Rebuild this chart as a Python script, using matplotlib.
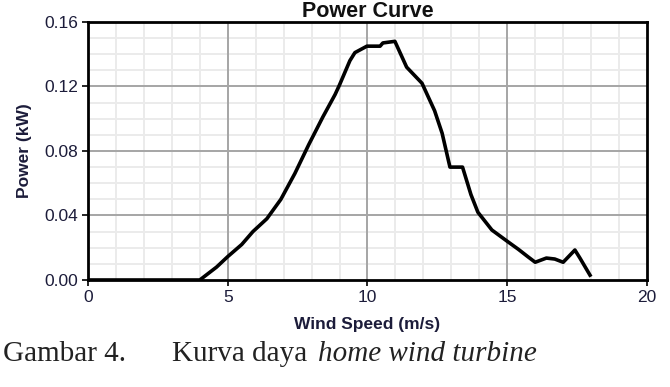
import matplotlib.pyplot as plt
from matplotlib.ticker import FormatStrFormatter

plt.rcParams['font.family'] = ['Liberation Sans', 'DejaVu Sans']

wind_speed = [0, 4.0, 4.3, 4.6, 5.0, 5.5, 5.9, 6.4, 6.9, 7.4, 7.9, 8.4, 8.84, 9.0,
              9.37, 9.55, 9.98, 10.45, 10.55, 10.98, 11.4, 11.95, 12.4, 12.67, 12.95,
              13.4, 13.7, 13.95, 14.45, 15.0, 15.4, 15.74, 16.0, 16.4, 16.7, 17.0,
              17.42, 17.6, 17.96]
power_kw = [0, 0, 0.004, 0.008, 0.0145, 0.022, 0.030, 0.038, 0.050, 0.066, 0.084,
            0.101, 0.115, 0.121, 0.136, 0.141, 0.145, 0.145, 0.147, 0.148, 0.132,
            0.122, 0.105, 0.091, 0.070, 0.070, 0.053, 0.042, 0.031, 0.024, 0.019,
            0.0144, 0.011, 0.0136, 0.013, 0.011, 0.0186, 0.0136, 0.003]

x_ticks = [0, 5, 10, 15, 20]
y_ticks = [0.00, 0.04, 0.08, 0.12, 0.16]

label_color = '#1c1c3a'

fig = plt.figure(figsize=(6.7, 3.87), dpi=100)
ax = fig.add_axes([0.1313, 0.2765, 0.8344, 0.6667])

# minor grid drawn by hand so the major lines sit on top
for xv in range(1, 20):
    ax.axvline(xv, color='#ebebeb', linewidth=1.4, zorder=0.5)
for k in range(1, 16):
    ax.axhline(k * 0.01, color='#ebebeb', linewidth=1.4, zorder=0.5)
for xv in x_ticks[1:-1]:
    ax.axvline(xv, color='#a6a6a6', linewidth=1.4, zorder=1)
for yv in y_ticks[1:-1]:
    ax.axhline(yv, color='#a6a6a6', linewidth=1.4, zorder=1)

ax.plot(wind_speed, power_kw, color='black', linewidth=2.6, zorder=3)

ax.set_xlim(0, 20)
ax.set_ylim(0, 0.16)
ax.set_xticks(x_ticks)
ax.set_yticks(y_ticks)
ax.yaxis.set_major_formatter(FormatStrFormatter('%.2f'))

for s in ax.spines.values():
    s.set_linewidth(2)
    s.set_color('black')

ax.tick_params(which='major', length=4, width=1.2, labelsize=12.5, labelcolor=label_color, pad=3)

ax.set_title('Power Curve', fontsize=15.5, fontweight='bold', color='#111111', pad=3)
ax.set_xlabel('Wind Speed (m/s)', fontsize=12.5, fontweight='bold', color=label_color, labelpad=9)
ax.set_ylabel('Power (kW)', fontsize=12.5, fontweight='bold', color=label_color, labelpad=9)

cap_y = 1 - 361 / 387
fig.text(3 / 670, cap_y, 'Gambar 4.', fontsize=21, family='Liberation Serif',
         color='#222222', va='baseline')
fig.text(172 / 670, cap_y, 'Kurva daya', fontsize=21, family='Liberation Serif',
         color='#222222', va='baseline')
fig.text(318 / 670, cap_y, 'home wind turbine', fontsize=21, family='Liberation Serif',
         style='italic', color='#222222', va='baseline')

fig.savefig('out.png', dpi=100)
